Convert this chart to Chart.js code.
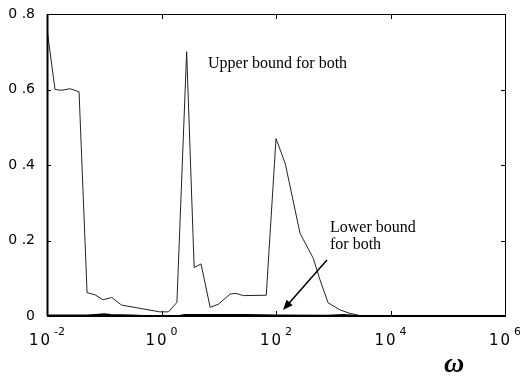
<!DOCTYPE html>
<html>
<head>
<meta charset="utf-8">
<script src="https://cdn.jsdelivr.net/npm/chart.js@4"></script>
<style>
  html, body { margin: 0; padding: 0; background: #fff; }
  #wrap { width: 520px; height: 377px; }
</style>
</head>
<body>
<div id="wrap"><canvas id="chart-bounds"></canvas></div>
<script>
// frequency samples (omega) and the bound curves
var omegaUpper = [0.01, 0.0138, 0.0182, 0.0251, 0.0363, 0.0501, 0.0692, 0.0955, 0.135, 0.2,
    0.933, 1.32, 1.86, 2.75, 3.72, 4.9, 7.08, 9.77, 15.8, 20, 26.9, 67.6,
    100, 145, 263, 447, 589, 813, 1318, 1950, 3162, 1000000];
var upperBound = [0.76, 0.60, 0.598, 0.602, 0.594, 0.062, 0.056, 0.043, 0.049, 0.029,
    0.011, 0.011, 0.036, 0.70, 0.128, 0.138, 0.023, 0.031, 0.058, 0.060, 0.054, 0.055,
    0.47, 0.404, 0.219, 0.153, 0.095, 0.035, 0.016, 0.007, 0, 0];

var omegaLower = [0.01, 0.05, 0.08, 0.1, 0.13, 0.3, 0.6, 2, 2.5, 30, 100, 800, 1500, 2500, 5000, 1000000];
var lowerBound = [0.002, 0.002, 0.004, 0.005, 0.003, 0.002, 0, 0, 0.003, 0.003, 0.002, 0.001, 0.003, 0.001, 0, 0];

var xTickPowers = [-2, 0, 2, 4, 6];
var yTicks = [0, 0.2, 0.4, 0.6, 0.8];
var yTickLabels = ["0", "0 .2", "0 .4", "0 .6", "0 .8"];

function toPoints(xs, ys) {
    return xs.map(function (x, i) { return { x: x, y: ys[i] }; });
}

// frame, inward ticks, tick labels and the notes
var framePlugin = {
    id: 'frame',
    afterDraw: function (chart) {
        var ctx = chart.ctx;
        var a = chart.chartArea;
        var xs = chart.scales.x, ys = chart.scales.y;
        ctx.save();
        ctx.strokeStyle = '#000';
        ctx.lineWidth = 1;
        ctx.strokeRect(a.left + 0.5, a.top + 0.5, a.right - a.left, a.bottom - a.top);
        ctx.lineWidth = 2;
        ctx.beginPath();
        ctx.moveTo(a.left, a.bottom);
        ctx.lineTo(a.right, a.bottom);
        ctx.moveTo(a.left + 0.5, a.top);
        ctx.lineTo(a.left + 0.5, a.bottom);
        ctx.stroke();

        ctx.lineWidth = 1;
        ctx.beginPath();
        yTicks.forEach(function (v) {
            var py = Math.round(ys.getPixelForValue(v)) + 0.5;
            ctx.moveTo(a.left, py); ctx.lineTo(a.left + 4, py);
            ctx.moveTo(a.right, py); ctx.lineTo(a.right - 4, py);
        });
        xTickPowers.forEach(function (p) {
            var px = Math.round(xs.getPixelForValue(Math.pow(10, p))) + 0.5;
            ctx.moveTo(px, a.bottom); ctx.lineTo(px, a.bottom - 5);
            ctx.moveTo(px, a.top); ctx.lineTo(px, a.top + 5);
        });
        ctx.stroke();

        ctx.fillStyle = '#000';
        ctx.font = '14px "DejaVu Sans"';
        ctx.textAlign = 'right';
        ctx.textBaseline = 'middle';
        yTicks.forEach(function (v, i) {
            ctx.fillText(yTickLabels[i], a.left - 12, ys.getPixelForValue(v));
        });

        ctx.textBaseline = 'alphabetic';
        ctx.textAlign = 'left';
        xTickPowers.forEach(function (p) {
            var px = xs.getPixelForValue(Math.pow(10, p));
            ctx.letterSpacing = '2px';
            ctx.font = '15px "DejaVu Sans"';
            var base = '10';
            var exp = String(p);
            var wb = ctx.measureText(base).width;
            ctx.letterSpacing = '0px';
            ctx.font = '11px "DejaVu Sans"';
            var we = ctx.measureText(exp).width;
            var x0 = px - (wb + 2 + we) / 2;
            ctx.letterSpacing = '2px';
            ctx.font = '15px "DejaVu Sans"';
            ctx.fillText(base, x0, a.bottom + 29);
            ctx.letterSpacing = '0px';
            ctx.font = '11px "DejaVu Sans"';
            ctx.fillText(exp, x0 + wb + 2, a.bottom + 19);
        });

        ctx.font = 'italic bold 28px "Liberation Serif"';
        ctx.fillText('\u03c9', 444, 372);

        ctx.font = '16px "Liberation Serif"';
        ctx.fillText('Upper bound for both', 208, 68);
        ctx.fillText('Lower bound', 330, 232);
        ctx.fillText('for both', 330, 249);

        // arrow to the lower bound curve
        var tx = 327, ty = 260, hx = 283, hy = 310;
        var ang = Math.atan2(hy - ty, hx - tx);
        ctx.lineWidth = 1.5;
        ctx.beginPath();
        ctx.moveTo(tx, ty);
        ctx.lineTo(hx - 6 * Math.cos(ang), hy - 6 * Math.sin(ang));
        ctx.stroke();
        ctx.beginPath();
        ctx.moveTo(hx, hy);
        ctx.lineTo(hx - 10 * Math.cos(ang) + 4 * Math.sin(ang), hy - 10 * Math.sin(ang) - 4 * Math.cos(ang));
        ctx.lineTo(hx - 10 * Math.cos(ang) - 4 * Math.sin(ang), hy - 10 * Math.sin(ang) + 4 * Math.cos(ang));
        ctx.closePath();
        ctx.fill();
        ctx.restore();
    }
};

var chartEl = document.getElementById("chart-bounds");
var chartBounds = new Chart(chartEl, {
    type: 'line',
    data: {
        datasets: [{
            label: 'Upper bound',
            data: toPoints(omegaUpper, upperBound),
            borderColor: '#222',
            borderWidth: 1,
            pointRadius: 0,
            tension: 0,
        }, {
            label: 'Lower bound',
            data: toPoints(omegaLower, lowerBound),
            borderColor: '#000',
            borderWidth: 1.5,
            pointRadius: 0,
            tension: 0,
        }]
    },
    options: {
        responsive: true,
        maintainAspectRatio: false,
        animation: false,
        events: [],
        layout: {
            padding: { left: 47, right: 15, top: 14, bottom: 61 }
        },
        plugins: {
            legend: { display: false },
            tooltip: { enabled: false },
        },
        scales: {
            x: {
                type: 'logarithmic',
                min: 0.01,
                max: 1000000,
                display: false,
            },
            y: {
                min: 0,
                max: 0.8,
                display: false,
            }
        }
    },
    plugins: [framePlugin]
});
</script>
</body>
</html>
